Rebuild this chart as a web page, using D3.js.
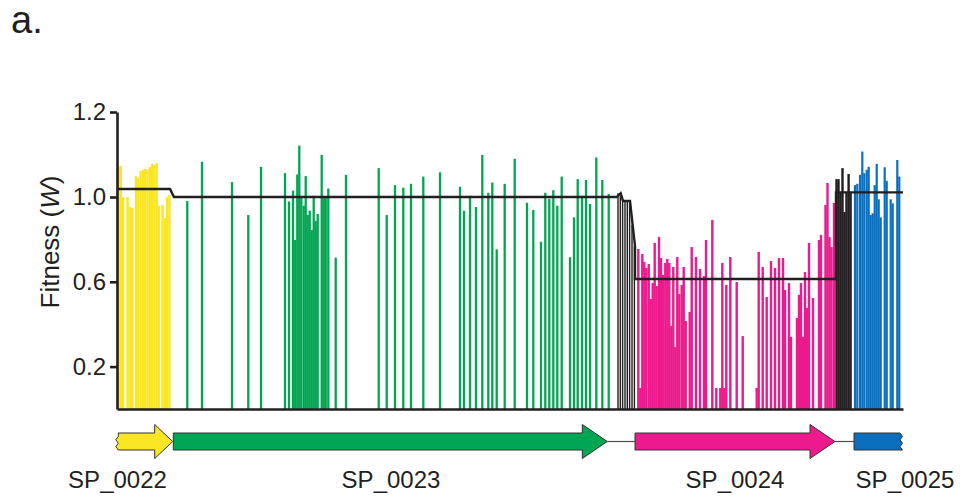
<!DOCTYPE html>
<html>
<head>
<meta charset="utf-8">
<script src="https://cdn.jsdelivr.net/npm/d3@7"></script>
<style>
  body { margin: 0; background: #fff; }
  svg { font-family: "Liberation Sans", Arial, sans-serif; }
  .axis path, .axis line { stroke: #231f20; stroke-width: 2.6; }
  .axis text { font-size: 24px; fill: #231f20; }
</style>
</head>
<body>
<div id="chart"></div>
<script>
// insertion position (relative, along the locus) and fitness W of each mutant
var sp0022 = [[1.5,1.071],[3.8,1.073],[6.1,1.000],[10.6,1.000],[13,0.953],[15.3,0.948],
  [19,1.049],[21.3,1.045],[23.6,1.061],[25.9,1.064],[28.2,1.066],[30.5,1.064],[32.8,1.071],
  [35.1,1.078],[37.4,1.075],[39.7,1.080],[42,0.958],[45.5,0.962],[47.8,0.901],[50.1,1.000],[52.4,1.005]];

var sp0023 = [[70.3,0.981],[85,1.083],[115,1.035],[131.3,0.915],[144,1.071],[168,1.056],
  [172,0.979],[176,1.015],[178.2,0.797],[180.3,1.053],[182.3,1.121],[184.3,0.995],[186.7,0.959],
  [188.7,1.049],[190.7,0.915],[192.7,0.935],[194.7,0.844],[196.7,1.003],[198.7,0.887],[200.7,0.920],
  [204.7,1.099],[206.7,0.995],[208.7,0.999],[211.3,1.020],[218.7,0.714],[229,1.052],[261.7,1.068],
  [269.7,0.915],[278,1.028],[286.3,1.022],[294,1.031],[306.3,1.048],[323,1.058],[343,1.024],
  [347,0.935],[353,1.003],[359,0.953],[365.3,1.099],[371.3,1.010],[375.3,1.034],[379.7,0.753],
  [387.7,1.031],[397.7,1.090],[410,0.973],[416.3,0.939],[424,0.789],[428.3,1.010],[432.3,0.992],
  [436.3,1.016],[440.3,0.959],[444.7,1.048],[453,0.716],[457,0.904],[460.7,1.042],[465,1.003],
  [469,1.040],[473,0.967],[479.3,1.093],[485.3,1.040],[491.7,1.007]];

var intergenicA = [[501,1.009],[503.3,1.002],[505.6,0.991],[508,0.981],[510.3,0.981],
  [512.6,0.981],[515,0.868],[517.4,0.769]];

var sp0024 = [[521.3,0.755],[523.3,0.099],[525.3,0.731],[527.3,0.693],[529.3,0.665],[531.7,0.684],
  [533.7,0.519],[535.7,0.594],[537.7,0.783],[539.7,0.580],[542,0.811],[544,0.712],[546,0.632],
  [548.3,0.689],[550.3,0.708],[552.3,0.689],[554.3,0.392],[556.3,0.670],[558.3,0.292],[560.3,0.717],
  [562.3,0.542],[564.7,0.585],[566.7,0.670],[568.7,0.415],[572.7,0.458],[574.7,0.764],[579,0.717],
  [583,0.660],[587,0.627],[589,0.797],[595.3,0.892],[599.3,0.099],[603.3,0.099],[605.3,0.689],
  [607.3,0.099],[609.3,0.585],[613.3,0.717],[619.7,0.599],[625.7,0.344],[639.7,0.099],[641.7,0.741],
  [645.7,0.670],[649.7,0.528],[654,0.698],[658,0.665],[662,0.712],[666,0.712],[668,0.561],
  [672,0.594],[674,0.340],[680,0.429],[682,0.538],[684,0.594],[686,0.340],[688,0.646],[690,0.476],
  [692,0.783],[696,0.524],[702,0.797],[704,0.821],[708.5,0.962],[710.5,1.033],[712.5,0.811],
  [714.5,0.764],[717,0.972]];

var intergenicB = [[719.5,1.042],[721.5,1.042],[723.5,1.012],[725.5,1.068],[727.5,0.929],
  [729.5,1.012],[731.6,1.054],[733.6,1.012]];

var sp0025 = [[738,1.028],[740.3,1.031],[743,1.052],[745.3,1.107],[747.3,1.056],[749.7,1.064],
  [751.7,1.071],[753.7,0.915],[755.7,0.923],[757.7,1.028],[759.7,1.078],[761.7,0.989],[763.7,0.904],
  [767.7,1.070],[769.7,1.038],[773.7,0.989],[775.7,0.970],[780.3,1.087],[782.3,1.048]];

// mean fitness trace along the locus
var meanLine = [[0,1.019],[53,1.019],[57,1.0],[499.7,1.0],[503.7,1.009],[506,0.981],[513,0.981],
  [518,0.769],[518,0.613],[719,0.613],[719,1.011],[786,1.011]];

// genes: name, start, end (same coordinates as insertions)
var geneNames = ['SP_0022', 'SP_0023', 'SP_0024', 'SP_0025'];
var geneStart = [1.3, 56.3, 518, 737];
var geneEnd = [55.7, 490.3, 718, 783];
var labelPos = [0.5, 274, 618, 788];

var yTicks = [0.2, 0.6, 1.0, 1.2];

var colors = {
  'SP_0022': '#fbe625', 'SP_0023': '#00a651', 'SP_0024': '#ec1a8c',
  'SP_0025': '#0b6fbd', 'intergenic': '#231f20'
};

var width = 960, height = 498;
var svg = d3.select('#chart').append('svg')
  .attr('width', width).attr('height', height);

var x = d3.scaleLinear().domain([0, 786]).range([117, 903]);
// the axis is stretched above 1.0 in the original figure
var y = d3.scaleLinear().domain([0, 1, 1.2]).range([409, 197, 112]);

// bars
var sets = [
  { data: sp0022, color: colors['SP_0022'], w: 2.4 },
  { data: sp0023, color: colors['SP_0023'], w: 2.3 },
  { data: intergenicA, color: colors['intergenic'], w: 1.4 },
  { data: sp0024, color: colors['SP_0024'], w: 2.4 },
  { data: intergenicB, color: colors['intergenic'], w: 2.4 },
  { data: sp0025, color: colors['SP_0025'], w: 2.2 }
];

sets.forEach(function(s) {
  var w = s.w;
  svg.append('g').selectAll('rect').data(s.data).enter()
    .append('rect')
    .attr('x', function(d) { return x(d[0]) - w / 2; })
    .attr('width', w)
    .attr('y', function(d) { return y(d[1]); })
    .attr('height', function(d) { return y(0) - y(d[1]); })
    .attr('fill', s.color);
});

// mean line
svg.append('path')
  .datum(meanLine)
  .attr('d', d3.line().x(function(d) { return x(d[0]); }).y(function(d) { return y(d[1]); }))
  .attr('fill', 'none')
  .attr('stroke', '#231f20')
  .attr('stroke-width', 2.4);

// axes
var yAxis = d3.axisLeft(y).tickValues(yTicks).tickFormat(d3.format('.1f'))
  .tickSize(7).tickSizeOuter(0).tickPadding(4);
svg.append('g').attr('class', 'axis')
  .attr('transform', 'translate(117,0)')
  .call(yAxis);

svg.append('g').attr('class', 'axis')
  .attr('transform', 'translate(0,409)')
  .call(d3.axisBottom(x).tickValues([]).tickSizeOuter(0));

// y label
var yl = svg.append('text')
  .attr('transform', 'translate(59,242) rotate(-90)')
  .attr('text-anchor', 'middle')
  .style('font-size', '26px')
  .attr('fill', '#231f20');
yl.append('tspan').text('Fitness (');
yl.append('tspan').style('font-style', 'italic').text('W');
yl.append('tspan').text(')');

// panel letter
svg.append('text').attr('x', 11).attr('y', 33)
  .style('font-size', '38px').attr('fill', '#231f20').text('a.');

// gene map
var gy = 441.5, bodyH = 8.5, headH = 17;

function zig(xp, top, bot, dir) {
  // jagged edge for truncated genes
  var pts = [], n = 5, step = (bot - top) / n;
  for (var i = 0; i <= n; i++) {
    pts.push([xp + (i % 2 ? dir * 2.5 : 0), top + i * step]);
  }
  return pts;
}

var lines = [[geneEnd[1], geneStart[2]], [geneEnd[2], geneStart[3]]];
svg.append('g').selectAll('line').data(lines).enter()
  .append('line')
  .attr('x1', function(d) { return x(d[0]); })
  .attr('x2', function(d) { return x(d[1]); })
  .attr('y1', gy).attr('y2', gy)
  .attr('stroke', '#4d4d4d').attr('stroke-width', 1.2);

geneNames.forEach(function(name, i) {
  var x0 = x(geneStart[i]), x1 = x(geneEnd[i]);
  var pts;
  if (i < 3) {
    var xb = x1 - (i === 0 ? 18 : 25);
    pts = [[x0, gy - bodyH], [xb, gy - bodyH], [xb, gy - headH], [x1, gy],
           [xb, gy + headH], [xb, gy + bodyH], [x0, gy + bodyH]];
    if (i === 0) {
      pts = pts.concat(zig(x0, gy + bodyH, gy - bodyH, -1).slice(1, -1));
    }
  } else {
    pts = [[x0, gy - bodyH]].concat(zig(x1, gy - bodyH, gy + bodyH, 1)).concat([[x0, gy + bodyH]]);
  }
  svg.append('polygon')
    .attr('points', pts.map(function(p) { return p.join(','); }).join(' '))
    .attr('fill', colors[name])
    .attr('stroke', '#333')
    .attr('stroke-width', 1);

  svg.append('text')
    .attr('x', x(labelPos[i]))
    .attr('y', 488)
    .attr('text-anchor', 'middle')
    .style('font-size', '24px')
    .attr('fill', '#231f20')
    .text(name);
});
</script>
</body>
</html>
